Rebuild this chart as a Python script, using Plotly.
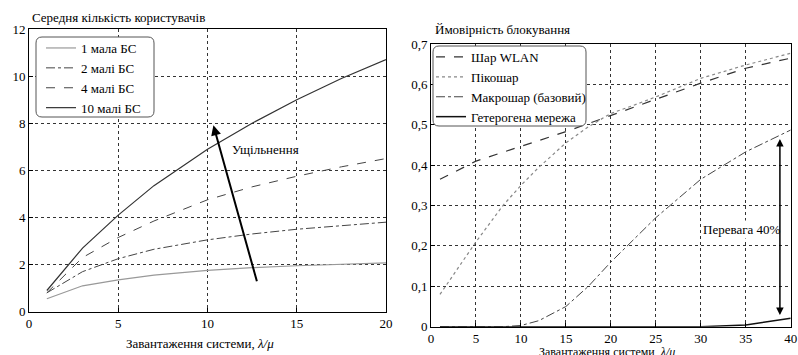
import plotly.graph_objects as go

# ---- Left chart data ----
load_left = [1, 3, 5, 7, 10, 12.5, 15, 17.5, 20]
users_1 = [0.55, 1.1, 1.35, 1.55, 1.75, 1.87, 1.95, 2.02, 2.07]
users_2 = [0.8, 1.7, 2.25, 2.65, 3.05, 3.3, 3.5, 3.65, 3.8]
users_4 = [0.8, 2.3, 3.15, 3.85, 4.75, 5.3, 5.75, 6.15, 6.5]
users_10 = [0.9, 2.7, 4.1, 5.35, 6.9, 8.0, 9.0, 9.9, 10.7]
names_left = ["1 мала БС", "2 малі БС", "4 малі БС", "10 малі БС"]

# ---- Right chart data ----
load_right = [1, 5, 8, 10, 12, 15, 17.5, 20, 22.5, 25, 30, 35, 40]
p_wlan = [0.365, 0.41, 0.432, 0.446, 0.461, 0.483, 0.503, 0.524, 0.544, 0.563, 0.603, 0.64, 0.665]
p_pico = [0.08, 0.21, 0.30, 0.35, 0.395, 0.455, 0.495, 0.528, 0.548, 0.569, 0.615, 0.648, 0.677]
p_macro = [0.0, 0.0, 0.0, 0.003, 0.015, 0.05, 0.1, 0.16, 0.215, 0.27, 0.365, 0.433, 0.487]
p_het = [0.0, 0.0, 0.0, 0.0, 0.0, 0.0, 0.0, 0.0, 0.0, 0.0, 0.0, 0.004, 0.021]
names_right = ["Шар WLAN", "Пікошар", "Макрошар (базовий)", "Гетерогена мережа"]

left_ticks_x = [0, 5, 10, 15, 20]
left_ticks_y = [0, 2, 4, 6, 8, 10, 12]
right_ticks_x = [0, 5, 10, 15, 20, 25, 30, 35, 40]
right_ticks_y = [0, 0.1, 0.2, 0.3, 0.4, 0.5, 0.6, 0.7]
right_ticks_y_text = ["0", "0,1", "0,2", "0,3", "0,4", "0,5", "0,6", "0,7"]

FONT = "Liberation Serif, Times New Roman, Tinos, DejaVu Serif, serif"
W, H = 798, 355


def PX(p):
    return p / W


def PY(p):
    return 1 - p / H


def rounded_box(x0, y0, x1, y1, r=6):
    pts = [
        f"M {PX(x0 + r)},{PY(y0)}",
        f"L {PX(x1 - r)},{PY(y0)}",
        f"Q {PX(x1)},{PY(y0)} {PX(x1)},{PY(y0 + r)}",
        f"L {PX(x1)},{PY(y1 - r)}",
        f"Q {PX(x1)},{PY(y1)} {PX(x1 - r)},{PY(y1)}",
        f"L {PX(x0 + r)},{PY(y1)}",
        f"Q {PX(x0)},{PY(y1)} {PX(x0)},{PY(y1 - r)}",
        f"L {PX(x0)},{PY(y0 + r)}",
        f"Q {PX(x0)},{PY(y0)} {PX(x0 + r)},{PY(y0)}",
        "Z",
    ]
    return " ".join(pts)


fig = go.Figure()

left_styles = [("#999999", "solid", 1.2), ("#444444", "dashdot", 1), ("#444444", "dash", 1), ("#333333", "solid", 1.2)]
for name, ys, (c, d, w) in zip(names_left, [users_1, users_2, users_4, users_10], left_styles):
    fig.add_trace(go.Scatter(x=load_left, y=ys, name=name, mode="lines",
                             line=dict(color=c, dash=d, width=w),
                             xaxis="x", yaxis="y", legend="legend"))

right_styles = [("#333333", "dash", 1.2), ("#888888", "dot", 1.2), ("#444444", "dashdot", 1), ("#111111", "solid", 1.5)]
for name, ys, (c, d, w) in zip(names_right, [p_wlan, p_pico, p_macro, p_het], right_styles):
    fig.add_trace(go.Scatter(x=load_right, y=ys, name=name, mode="lines",
                             line=dict(color=c, dash=d, width=w),
                             xaxis="x2", yaxis="y2", legend="legend2"))


def ax(**kw):
    base = dict(showline=True, mirror=True, linecolor="black", linewidth=1,
                ticks="inside", ticklen=4, tickcolor="black",
                showgrid=True, gridcolor="#333333", griddash="dot", gridwidth=1,
                zeroline=False, automargin=False,
                tickfont=dict(family=FONT, size=13, color="black"))
    base.update(kw)
    return base


fig.update_layout(
    width=W, height=H,
    margin=dict(l=0, r=0, t=0, b=0),
    paper_bgcolor="white", plot_bgcolor="white",
    font=dict(family=FONT, size=13, color="black"),
    xaxis=ax(domain=[29/W, 386/W], range=[0, 20], tickvals=left_ticks_x, anchor="y"),
    yaxis=ax(domain=[1-311.7/H, 1-29/H], range=[0, 12], tickvals=left_ticks_y, anchor="x"),
    xaxis2=ax(domain=[431/W, 790.7/W], range=[0, 40], tickvals=right_ticks_x, anchor="y2"),
    yaxis2=ax(domain=[1-326.7/H, 1-44/H], range=[0, 0.7], tickvals=right_ticks_y,
              ticktext=right_ticks_y_text, anchor="x2"),
    legend=dict(x=PX(41), y=PY(33), xanchor="left", yanchor="top",
                bgcolor="rgba(0,0,0,0)", borderwidth=0,
                font=dict(family=FONT, size=13), tracegroupgap=0),
    legend2=dict(x=PX(431), y=PY(42), xanchor="left", yanchor="top",
                 bgcolor="rgba(0,0,0,0)", borderwidth=0,
                 font=dict(family=FONT, size=13), tracegroupgap=0),
    showlegend=True,
    shapes=[
        dict(type="path", path=rounded_box(36, 37, 154, 117), xref="paper", yref="paper",
             line=dict(color="#555555", width=1), fillcolor="white", layer="above"),
        dict(type="path", path=rounded_box(433, 46, 586, 126), xref="paper", yref="paper",
             line=dict(color="#555555", width=1), fillcolor="white", layer="above"),
    ],
)

annotations = [
    dict(text="Середня кількість користувачів", x=PX(30), y=PY(17), xref="paper", yref="paper",
         xanchor="left", yanchor="middle", showarrow=False, font=dict(size=13)),
    dict(text="Ймовірність блокування", x=PX(433), y=PY(29), xref="paper", yref="paper",
         xanchor="left", yanchor="middle", showarrow=False, font=dict(size=13)),
    dict(text="Завантаження системи, <i>λ/μ</i>", x=PX(200), y=PY(343), xref="paper", yref="paper",
         xanchor="center", yanchor="middle", showarrow=False, font=dict(size=13)),
    dict(text="Завантаження системи, <i>λ/μ</i>", x=PX(607), y=PY(352), xref="paper", yref="paper",
         xanchor="center", yanchor="middle", showarrow=False, font=dict(size=12)),
    dict(text="Ущільнення", x=11.26, y=6.9, xref="x", yref="y", xanchor="left",
         yanchor="middle", showarrow=False, font=dict(size=13), bgcolor="white"),
    dict(text="", x=10.33, y=7.91, xref="x", yref="y", ax=12.79, ay=1.23, axref="x", ayref="y",
         showarrow=True, arrowhead=2, arrowsize=1, arrowwidth=2, arrowcolor="black"),
    dict(text="Перевага 40%", x=30, y=0.241, xref="x2", yref="y2", xanchor="left",
         yanchor="middle", showarrow=False, font=dict(size=13), bgcolor="white"),
    dict(text="", x=38.8, y=0.465, xref="x2", yref="y2", ax=38.8, ay=0.025, axref="x2", ayref="y2",
         showarrow=True, arrowhead=2, startarrowhead=2, arrowside="end+start", arrowsize=1,
         arrowwidth=1.5, arrowcolor="black"),
]
fig.update_layout(annotations=annotations)

fig.write_html("out.html", config={"displayModeBar": False},
               post_script="document.body.style.margin='0px';document.body.style.overflow='hidden';")
